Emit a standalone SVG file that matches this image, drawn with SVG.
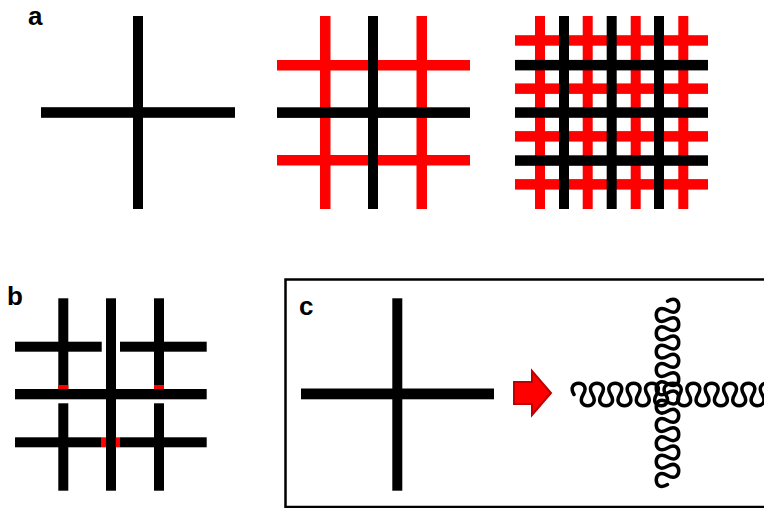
<svg xmlns="http://www.w3.org/2000/svg" width="764" height="508" viewBox="0 0 764 508">
<style>
.k{fill:#000}
.r{fill:#ff0000}
.lbl{font-family:"Liberation Sans",Arial,sans-serif;font-weight:bold;font-size:26px;fill:#000}
.wave{fill:none;stroke:#000;stroke-width:3.5;stroke-linecap:round;stroke-linejoin:round}
</style>
<rect width="764" height="508" fill="#fff"/>
<g id="panel-a">
  <text class="lbl" x="28" y="25">a</text>
  <g id="a1">
    <rect class="k" x="133" y="16" width="10" height="193"/>
    <rect class="k" x="41" y="107.2" width="194" height="10.6"/>
  </g>
  <g id="a2">
    <rect class="r" x="277" y="60" width="193" height="10.5"/>
    <rect class="r" x="277" y="155" width="193" height="10.5"/>
    <rect class="r" x="320" y="16" width="10.5" height="193"/>
    <rect class="r" x="416.5" y="16" width="10.5" height="193"/>
    <rect class="k" x="277" y="107.3" width="193" height="10.6"/>
    <rect class="k" x="368" y="16" width="10" height="193"/>
  </g>
  <g id="a3">
    <rect class="r" x="515" y="35.2" width="193" height="10.5"/>
    <rect class="r" x="515" y="83.4" width="193" height="10.5"/>
    <rect class="r" x="515" y="131.1" width="193" height="10.5"/>
    <rect class="r" x="515" y="179.1" width="193" height="10.5"/>
    <rect class="r" x="535" y="16" width="10" height="193"/>
    <rect class="r" x="582.7" y="16" width="10" height="193"/>
    <rect class="r" x="630.7" y="16" width="10" height="193"/>
    <rect class="r" x="678.3" y="16" width="10" height="193"/>
    <rect class="k" x="515" y="59.9" width="193" height="10.5"/>
    <rect class="k" x="515" y="107.3" width="193" height="10.5"/>
    <rect class="k" x="515" y="155.3" width="193" height="10.5"/>
    <rect class="k" x="559" y="16" width="10" height="193"/>
    <rect class="k" x="606.7" y="16" width="10" height="193"/>
    <rect class="k" x="654" y="16" width="10" height="193"/>
  </g>
</g>
<g id="panel-b">
  <text class="lbl" x="7" y="305">b</text>
  <rect class="k" x="58.3" y="298.3" width="10" height="90.7"/>
  <rect class="r" x="58.3" y="385" width="10" height="4"/>
  <rect class="k" x="58.3" y="403.3" width="10" height="87.4"/>
  <rect class="k" x="154" y="298.3" width="10" height="90.7"/>
  <rect class="r" x="154" y="385" width="10" height="4"/>
  <rect class="k" x="154" y="403.3" width="10" height="87.4"/>
  <rect class="k" x="106" y="298.3" width="10" height="192.4"/>
  <rect class="k" x="15" y="341.7" width="86.7" height="10"/>
  <rect class="k" x="120" y="341.7" width="86.7" height="10"/>
  <rect class="k" x="15" y="389" width="191.7" height="10.3"/>
  <rect class="k" x="15" y="437.3" width="86.7" height="10"/>
  <rect class="k" x="120" y="437.3" width="86.7" height="10"/>
  <rect class="r" x="101.7" y="437.3" width="4.3" height="10"/>
  <rect class="r" x="115.7" y="437.3" width="4.3" height="10"/>
</g>
<g id="panel-c">
  <rect x="285.5" y="279.5" width="520" height="227.5" fill="none" stroke="#000" stroke-width="2.5"/>
  <text class="lbl" x="299" y="315">c</text>
  <g id="c-straight">
    <rect class="k" x="392.3" y="298.3" width="10" height="192.4"/>
    <rect class="k" x="301" y="388.5" width="193" height="10.8"/>
  </g>
  <g id="c-wavy">
    <path class="wave" d="M574,394.5 c-9,-15 18.17,-15 9.17,0 c-9,15 18.17,15 9.17,0 c-9,-15 18.17,-15 9.17,0 c-9,15 18.17,15 9.17,0 c-9,-15 18.17,-15 9.17,0 c-9,15 18.17,15 9.17,0 c-9,-15 18.17,-15 9.17,0 c-9,15 18.17,15 9.17,0 c-9,-15 18.17,-15 9.17,0 c-9,15 18.17,15 9.17,0 c-9,-15 22.9,-15 13.9,0 c-9,15 18.17,15 9.17,0 c-9,-15 18.17,-15 9.17,0 c-9,15 18.17,15 9.17,0 c-9,-15 18.17,-15 9.17,0 c-9,15 18.17,15 9.17,0 c-9,-15 18.17,-15 9.17,0 c-9,15 18.17,15 9.17,0 c-9,-15 18.17,-15 9.17,0 c-9,15 18.17,15 9.17,0 c-9,-15 18.17,-15 9.17,0 c-9,15 18.17,15 9.17,0"/>
    <path class="wave" d="M667.5,301.2 c15,-9 15,18.17 0,9.17 c-15,-9 -15,18.17 0,9.17 c15,-9 15,18.17 0,9.17 c-15,-9 -15,18.17 0,9.17 c15,-9 15,18.17 0,9.17 c-15,-9 -15,18.17 0,9.17 c15,-9 15,18.17 0,9.17 c-15,-9 -15,18.17 0,9.17 c15,-9 15,18.17 0,9.17 c-15,-9 -15,18.17 0,9.17 c15,-9 15,18.17 0,9.17 c-15,-9 -15,18.17 0,9.17 c15,-9 15,18.17 0,9.17 c-15,-9 -15,18.17 0,9.17 c15,-9 15,18.17 0,9.17 c-15,-9 -15,18.17 0,9.17 c15,-9 15,18.17 0,9.17 c-15,-9 -15,18.17 0,9.17 c15,-9 15,18.17 0,9.17 c-15,-9 -15,18.17 0,9.17"/>
  </g>
</g>
<g id="connectors">
  <polygon points="514,382 532,382 532,371 551,393 532,415 532,404 514,404" fill="#ff0000" stroke="#c00000" stroke-width="2"/>
</g>
</svg>
